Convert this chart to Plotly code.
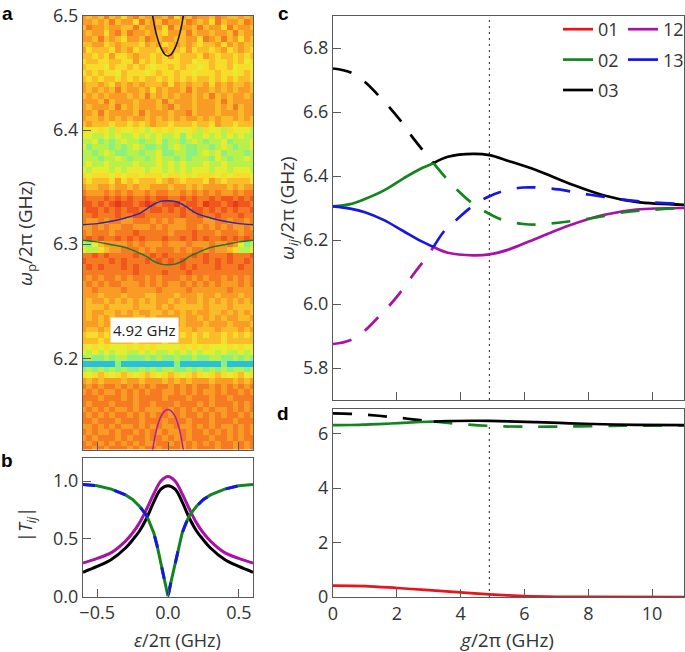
import plotly.graph_objects as go

W, H = 685, 652
FONT = "Open Sans"
INK = "#333333"
AX = "#5a5a5a"

# Panel a: intensity levels 0-9, top row 6.50 GHz, bottom row 6.12 GHz
spec_rows = [
"343424353243334253423342344343","334342433524342334234352433423","423343344243335243342433524334","343353242334345334243343342433",
"334243453342343344335234243534","443354344453435434345443534344","354445343544453445354454354345","445453554344545354445345445454",
"544554455354545554465545545465","455564554545655454556545546556","545455645556545545565554556545","454544545454454545454454545445",
"344345343434443534344353434434","343434243343534334243343434334","434343334342434343343424343343","333424333433342433343334243333",
"343334243433343243343334342433","334243333424333433243334333433",
"344343434334343434334343443434","434445445454344544454453445444","566567566567656566657566756667","667767677676767768677676767677",
"776878767787768778767877687776","687778787678878767887787678776","778767887787768877887676877787","777877678778767787877786787767",
"767767777677767676777677677777","676667676667667676766676676667","565556565565556556565556565556","454445354544454345444534544445",
"344334334344333433434333343433","233323232332322332323232332322","122212121221211221212212112121","112121011210121102112011210112",
"211212121122112121211212121221","221222122112222221221221222122","233232233222323233222332232232","332323322333232333223232323323",
"232223222122222322212223222322","212122121212221221212122121212",
"786433332323332333233323323687","677543322232322232322323345776",
"221212222122121222212122212221","122221212221212121222121212212","212122212122222221212221222122","222222222122221222122222222222",
"232322323223232223232322323232","323232233323232332323232333232","332333323333323333233333323333","333433343334433343334334333433",
"343343434343433434334343434343","344434444344434344444344434444","343344343433443434343344343434","343434333443433334334343433443",
"333433334343343434333433343334","344344434443434344434443444343","455454545445454545454544545454","444544444544445444454444544444",
"565656665656566665656566656566","676767667767677676767667677676","878878778887878878878877887878","999999899999999989999999899999",
"878787878878787788787878787787","565456545654565456545654565465","343433343343334343433343334343","232322323232322323232232323232",
"323233232323223323232332322323","222322232322223222322232232222","232223222322322232223232223232","323232332323332323232323323232",
"232323223232322323223232322323","223222322232223222322232223222","332323233232323323323232332323","232332322323232332322323232323",
"323222323223223232322232232322","232323232323322323232323223232","223232223232232223232223223232",
]
spec_levels = [[int(c) for c in row] for row in spec_rows]
level_colors = ["#e63a1e", "#f0561e", "#f67a22", "#f99c26", "#fabc28",
                "#f7dc2a", "#e8ec30", "#b8f04c", "#8cf080", "#28c0dc"]

# Panel a overlay curves
eps_a_13 = [-0.6, -0.5, -0.4, -0.3, -0.2, -0.15, -0.1, -0.05, 0, 0.05, 0.1, 0.15, 0.2, 0.3, 0.4, 0.5, 0.6]
wp_13 = [6.317, 6.318, 6.32, 6.323, 6.327, 6.331, 6.335, 6.3375, 6.338, 6.3375, 6.335, 6.331, 6.327, 6.323, 6.32, 6.318, 6.317]
wp_02 = [6.3035, 6.302, 6.2995, 6.297, 6.292, 6.289, 6.285, 6.2825, 6.282, 6.2825, 6.285, 6.289, 6.292, 6.297, 6.2995, 6.302, 6.3035]
eps_a_tip = [-0.13, -0.108, -0.08, -0.05, -0.02, 0, 0.02, 0.05, 0.08, 0.108, 0.13]
wp_03 = [6.52, 6.5, 6.483, 6.472, 6.466, 6.465, 6.466, 6.472, 6.483, 6.5, 6.52]
wp_12 = [6.10, 6.12, 6.138, 6.149, 6.154, 6.155, 6.154, 6.149, 6.138, 6.12, 6.10]

# Panel b
eps_b = [-0.6, -0.5, -0.4, -0.3, -0.25, -0.2, -0.15, -0.1, -0.05, 0, 0.05, 0.1, 0.15, 0.2, 0.25, 0.3, 0.4, 0.5, 0.6]
T_12 = [0.29, 0.33, 0.38, 0.48, 0.55, 0.64, 0.76, 0.89, 1.0, 1.04, 1.0, 0.89, 0.76, 0.64, 0.55, 0.48, 0.38, 0.33, 0.29]
T_03 = [0.21, 0.26, 0.32, 0.42, 0.49, 0.57, 0.68, 0.82, 0.93, 0.96, 0.93, 0.82, 0.68, 0.57, 0.49, 0.42, 0.32, 0.26, 0.21]
eps_b_dip = [-0.6, -0.5, -0.4, -0.3, -0.25, -0.2, -0.15, -0.125, -0.1, -0.075, -0.05, -0.02, 0,
             0.02, 0.05, 0.075, 0.1, 0.125, 0.15, 0.2, 0.25, 0.3, 0.4, 0.5, 0.6]
T_dip = [0.97, 0.96, 0.93, 0.88, 0.84, 0.78, 0.70, 0.63, 0.55, 0.43, 0.29, 0.12, 0,
         0.12, 0.29, 0.43, 0.55, 0.63, 0.70, 0.78, 0.84, 0.88, 0.93, 0.96, 0.97]

# Panel c / d
g_low = [0, 0.54, 1.01, 1.43, 1.81, 2.18, 2.5, 2.86, 3.15]
w03_dash = [6.736, 6.724, 6.693, 6.651, 6.61, 6.565, 6.52, 6.475, 6.44]
w12_dash = [5.875, 5.887, 5.918, 5.96, 6.0, 6.045, 6.09, 6.137, 6.178]
g_rise = [0, 0.54, 1.0, 1.6, 2.2, 2.73, 3.15]
w02_solid = [6.305, 6.312, 6.328, 6.355, 6.392, 6.422, 6.44]
w13_solid = [6.305, 6.298, 6.287, 6.262, 6.228, 6.198, 6.178]
g_high = [3.15, 3.6, 4.4, 4.9, 5.5, 6.38, 7.42, 8.47, 9.5, 11]
w03_solid = [6.44, 6.46, 6.469, 6.465, 6.447, 6.418, 6.376, 6.34, 6.319, 6.31]
w12_solid = [6.178, 6.16, 6.152, 6.155, 6.17, 6.205, 6.246, 6.278, 6.295, 6.30]
g_mid = [3.15, 3.51, 3.88, 4.35, 4.82, 5.34, 5.96, 6.38, 7.06, 7.69, 8.5, 9.0, 9.8, 11]
w13_dash = [6.178, 6.231, 6.264, 6.304, 6.333, 6.353, 6.364, 6.364, 6.358, 6.347, 6.335, 6.327, 6.319, 6.312]
w02_dash = [6.44, 6.397, 6.358, 6.316, 6.286, 6.262, 6.25, 6.248, 6.254, 6.262, 6.275, 6.285, 6.293, 6.30]
g_01 = [0, 1, 2, 3, 4, 4.9, 5.5, 6, 7, 8, 11]
w01 = [0.42, 0.40, 0.33, 0.25, 0.17, 0.10, 0.06, 0.03, 0.01, 0.005, 0]
g_mark = [4.9, 4.9]
mark_c = [5.7, 6.9]
mark_d = [0, 6.3]

RED, GREEN, BLUE, MAG, BLACK = "#e8141c", "#12851f", "#1616e0", "#a812a8", "#000000"
DASH = "19px,16px"
LW = 2.7


def px(a, b):
    return [a / W, b / W]


def py(top, bottom):
    return [1 - bottom / H, 1 - top / H]


fig = go.Figure()
n = len(level_colors) - 1
fig.add_trace(go.Heatmap(z=spec_levels, x0=-0.6, dx=1.2 / 29, y0=6.5, dy=-0.005, zmin=0, zmax=n,
                         colorscale=[[i / n, c] for i, c in enumerate(level_colors)],
                         showscale=False, zsmooth=False, xaxis="x", yaxis="y"))


def line(x, y, color, ax, width=LW, dash="solid", shape="spline", name=None, legend="legend", rank=None):
    fig.add_trace(go.Scatter(x=x, y=y, mode="lines", xaxis="x" + ax, yaxis="y" + ax,
                             line=dict(color=color, width=width, dash=dash, shape=shape),
                             showlegend=name is not None, name=name or "", legend=legend,
                             legendgroup=name, legendrank=rank if rank else 1000))


line(eps_a_13, wp_13, "#2a2aa8", "", 1.5)
line(eps_a_13, wp_02, "#1c7a2c", "", 1.5)
line(eps_a_tip, wp_03, "#111111", "", 1.5)
line(eps_a_tip, wp_12, "#b0209a", "", 1.5)

line(eps_b, T_12, MAG, "2", 3)
line(eps_b, T_03, BLACK, "2", 3)
line(eps_b_dip, T_dip, GREEN, "2", 3, shape="linear")
line(eps_b_dip, T_dip, BLUE, "2", 3, dash="12px,20px", shape="linear")

line(g_mark, mark_c, "#222222", "3", 1, "2px,4px", "linear")
line(g_low, w03_dash, BLACK, "3", dash=DASH)
line(g_low, w12_dash, MAG, "3", dash=DASH)
line(g_high, w12_solid, MAG, "3", name="12", legend="legend2", rank=1)
line(g_high, w03_solid, BLACK, "3", name="03", rank=3)
line(g_mid, w13_dash, BLUE, "3", dash=DASH)
line(g_mid, w02_dash, GREEN, "3", dash=DASH)
line(g_rise, w02_solid, GREEN, "3", name="02", rank=2)
line(g_rise, w13_solid, BLUE, "3", name="13", legend="legend2", rank=2)

line(g_mark, mark_d, "#222222", "4", 1, "2px,4px", "linear")
line(g_01, w01, RED, "4", name="01", rank=1)
line(g_low, w03_dash, BLACK, "4", dash=DASH)
line(g_mid, w02_dash, GREEN, "4", dash=DASH)
line(g_rise, w02_solid, GREEN, "4")
line(g_high, w03_solid, BLACK, "4")

axis = dict(showgrid=False, zeroline=False, showline=True, mirror=True, linecolor=AX, linewidth=1,
            ticks="inside", tickcolor=AX, ticklen=8, tickwidth=1)
tf = dict(family=FONT, size=18, color=INK)
leg = dict(orientation="v", yanchor="top", xanchor="left", bgcolor="rgba(0,0,0,0)", tracegroupgap=4,
           font=dict(family=FONT, size=18, color=INK), itemwidth=30)

fig.update_layout(
    width=W, height=H, margin=dict(l=0, r=0, t=0, b=0, autoexpand=False), paper_bgcolor="white", plot_bgcolor="white",
    font=dict(family=FONT, size=18, color=INK),
    xaxis=dict(axis, domain=px(83, 253), range=[-0.6, 0.6], tickvals=[-0.5, 0, 0.5], showticklabels=False, anchor="y"),
    yaxis=dict(axis, domain=py(16, 449.5), range=[6.12, 6.5], tickvals=[6.2, 6.3, 6.4, 6.5], tickformat=".1f", tickfont=tf, anchor="x"),
    xaxis2=dict(axis, domain=px(83, 253), range=[-0.6, 0.6], tickvals=[-0.5, 0, 0.5], tickformat=".1f", tickfont=tf, anchor="y2"),
    yaxis2=dict(axis, domain=py(458, 596.5), range=[0, 1.2], tickvals=[0, 0.5, 1.0], tickformat=".1f", tickfont=tf, anchor="x2"),
    xaxis3=dict(axis, domain=px(333, 684), range=[0, 11], tickvals=[2, 4, 6, 8, 10], showticklabels=False, anchor="y3"),
    yaxis3=dict(axis, domain=py(16, 400), range=[5.7, 6.9], tickvals=[5.8, 6.0, 6.2, 6.4, 6.6, 6.8], tickformat=".1f", tickfont=tf, anchor="x3"),
    xaxis4=dict(axis, domain=px(333, 684), range=[0, 11], tickvals=[0, 2, 4, 6, 8, 10], tickfont=tf, anchor="y4"),
    yaxis4=dict(axis, domain=py(409, 597), range=[0, 6.9], tickvals=[0, 2, 4, 6], tickfont=tf, anchor="x4"),
    legend=dict(leg, x=558 / W, y=1 - 11 / H),
    legend2=dict(leg, x=623 / W, y=1 - 11 / H),
)


def note(text, x, y, size=17, angle=0, bold=False, family=FONT, **kw):
    fig.add_annotation(text=f"<b>{text}</b>" if bold else text, x=x / W, y=1 - y / H, xref="paper", yref="paper",
                       xanchor="center", yanchor="middle",
                       showarrow=False, textangle=angle, font=dict(family=family, size=size, color=kw.pop("color", INK)), **kw)


for label, lx, ly in [("a", 7, 14), ("b", 7, 460), ("c", 283, 14), ("d", 283, 413)]:
    note(label, lx, ly, 19, bold=True, family="Liberation Sans", color="#000000")
note("<i>ω</i><sub>p</sub>/2π (GHz)", 26, 234, 19, -90)
note("|<i>T</i><sub><i>ij</i></sub>|", 26, 525, 18, -90)
note("<i>ω</i><sub><i>ij</i></sub>/2π (GHz)", 288, 208, 19, -90)
note("<i>ε</i>/2π (GHz)", 177, 640, 18)
note("<i>g</i>/2π (GHz)", 507, 640, 19)
note("4.92 GHz", 144, 330, 15, bgcolor="white", borderpad=2, color="#222222")

fig.write_html("out.html", post_script="document.body.style.margin='0';",
               config={"displayModeBar": False})
